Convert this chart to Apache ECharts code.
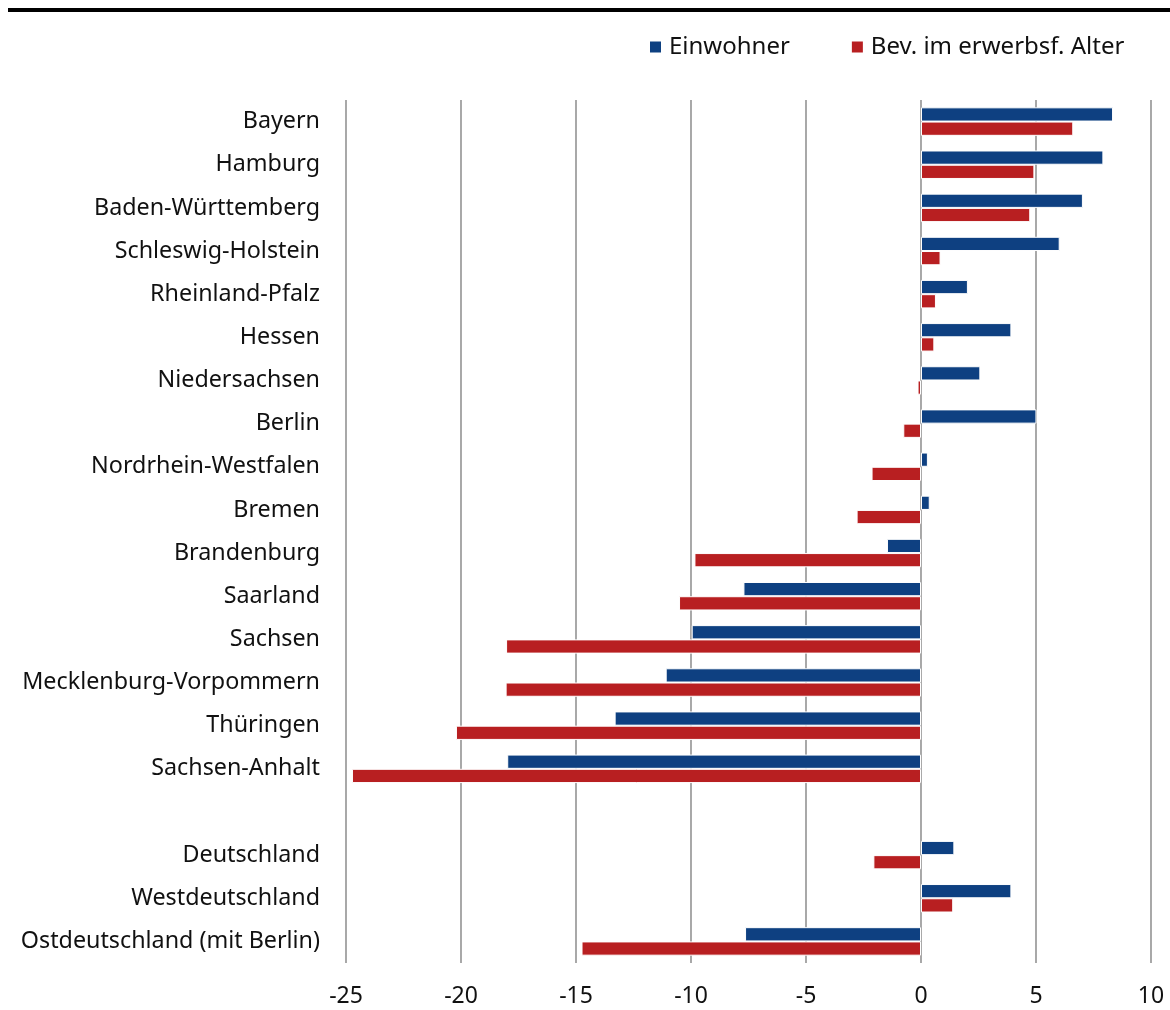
<!DOCTYPE html>
<html>
<head>
<meta charset="utf-8">
<script src="https://cdn.jsdelivr.net/npm/echarts@6/dist/echarts.min.js"></script>
<style>html,body{margin:0;padding:0;background:#fff}#c{width:1170px;height:1010px}</style>
</head>
<body>
<div id="c"></div>
<script>
const categories = ['Bayern','Hamburg','Baden-Württemberg','Schleswig-Holstein','Rheinland-Pfalz','Hessen','Niedersachsen','Berlin','Nordrhein-Westfalen','Bremen','Brandenburg','Saarland','Sachsen','Mecklenburg-Vorpommern','Thüringen','Sachsen-Anhalt','','Deutschland','Westdeutschland','Ostdeutschland (mit Berlin)'];
const einwohner = [8.35, 7.93, 7.04, 6.03, 2.04, 3.93, 2.58, 5.02, 0.3, 0.38, -1.48, -7.72, -9.97, -11.1, -13.32, -17.99, null, 1.45, 3.93, -7.65];
const erwerbsf = [6.62, 4.93, 4.75, 0.85, 0.65, 0.58, -0.15, -0.77, -2.15, -2.8, -9.85, -10.52, -18.04, -18.06, -20.22, -24.74, null, -2.07, 1.40, -14.76];
const seriesNames = ['Einwohner', 'Bev. im erwerbsf. Alter'];
const xTicks = {min: -25, max: 10, interval: 5};

const FONT = '"Noto Sans", "Open Sans", sans-serif';
const chart = echarts.init(document.getElementById('c'));
chart.setOption({
  animation: false,
  textStyle: {fontFamily: FONT},
  legend: {
    data: seriesNames,
    top: 30, left: 643,
    itemWidth: 13, itemHeight: 13, itemGap: 60,
    icon: 'rect',
    textStyle: {fontSize: 24, color: '#111', fontFamily: FONT, padding: [0,0,0,2]}
  },
  graphic: [{type: 'rect', shape: {x: 8, y: 8, width: 1170, height: 4}, style: {fill: '#000'}}],
  grid: {left: 346, right: 19, top: 100, bottom: 47, containLabel: false},
  xAxis: {
    type: 'value', min: xTicks.min, max: xTicks.max, interval: xTicks.interval,
    axisLine: {show: false}, axisTick: {show: false},
    axisLabel: {fontSize: 23, color: '#111', margin: 22, fontFamily: FONT},
    splitLine: {show: true, lineStyle: {color: '#939393', width: 1.6}}
  },
  yAxis: {
    type: 'category', data: categories, inverse: true,
    axisLine: {show: false}, axisTick: {show: false},
    axisLabel: {fontSize: 23.3, color: '#111', margin: 26, fontFamily: FONT}
  },
  series: [
    {name: seriesNames[0], type: 'bar', data: einwohner, barGap: '0%', barCategoryGap: '34%',
     itemStyle: {color: '#0e4081', borderColor: '#fff', borderWidth: 1}},
    {name: seriesNames[1], type: 'bar', data: erwerbsf, barGap: '0%', barCategoryGap: '34%',
     itemStyle: {color: '#b81f21', borderColor: '#fff', borderWidth: 1}}
  ]
});
</script>
</body>
</html>
